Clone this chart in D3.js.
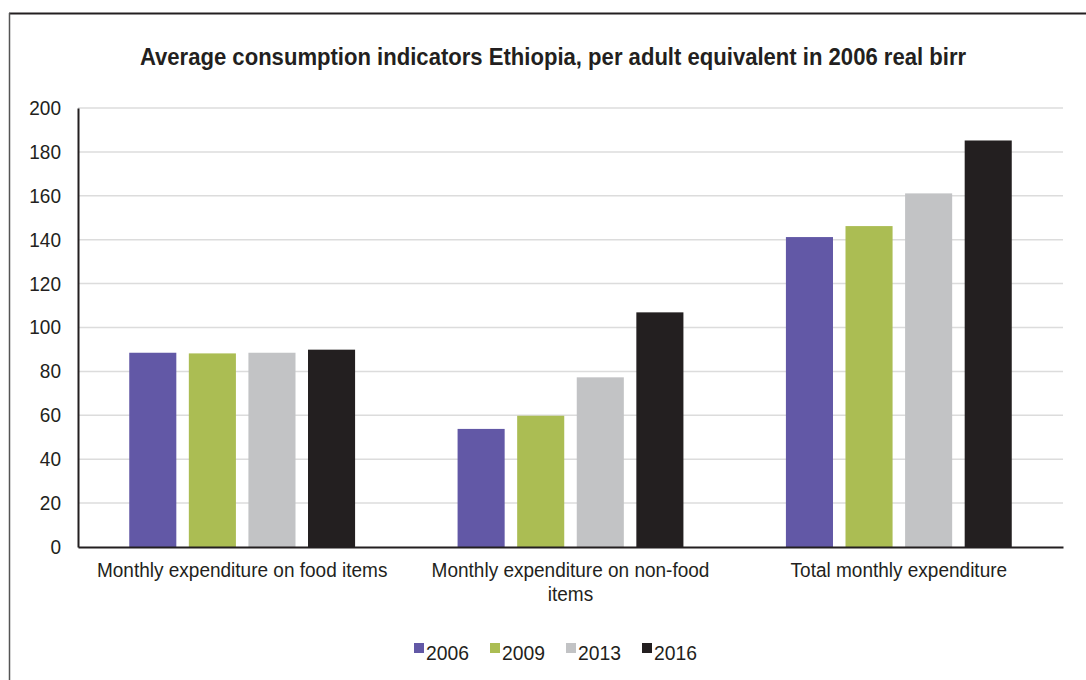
<!DOCTYPE html>
<html>
<head>
<meta charset="utf-8">
<script src="https://cdn.jsdelivr.net/npm/d3@7/dist/d3.min.js"></script>
<style>
  body { margin: 0; background: #fff; }
  text { font-family: "Liberation Sans Narrow", "Arial Narrow", "Liberation Sans", sans-serif; fill: #231f20; }
</style>
</head>
<body>
<div class="chart"></div>
<script>
// data
const categories = ['Monthly expenditure on food items', 'Monthly expenditure on non-food items', 'Total monthly expenditure'];
const years = ['2006', '2009', '2013', '2016'];
const colors = ['#6258a6', '#abbd53', '#c2c3c5', '#231f20'];
const values2006 = [88.5, 53.8, 141.2];
const values2009 = [88.2, 59.8, 146.2];
const values2013 = [88.5, 77.3, 161.1];
const values2016 = [89.9, 106.9, 185.2];
const yTicks = [0, 20, 40, 60, 80, 100, 120, 140, 160, 180, 200];

const series = [values2006, values2009, values2013, values2016];
const data = categories.map((c, i) => ({
  cat: c,
  vals: years.map((y, j) => ({ year: y, value: series[j][i], color: colors[j] }))
}));

const W = 1086, H = 680;
const margin = { top: 108, right: 23, bottom: 133, left: 78 };
const width = W - margin.left - margin.right;
const height = H - margin.top - margin.bottom;

// squeeze text a bit to look like the condensed face of the original
function condense(sel, k) {
  sel.each(function() {
    const len = this.getComputedTextLength();
    d3.select(this).attr('textLength', len * k).attr('lengthAdjust', 'spacingAndGlyphs');
  });
}

const root = d3.select('.chart').append('svg')
  .attr('width', W)
  .attr('height', H);

// frame (top + left border only)
root.append('line').attr('x1', 9).attr('x2', W).attr('y1', 13.5).attr('y2', 13.5)
  .attr('stroke', '#231f20').attr('stroke-width', 2);
root.append('line').attr('x1', 9.5).attr('x2', 9.5).attr('y1', 13).attr('y2', H)
  .attr('stroke', '#555').attr('stroke-width', 1.5);

root.append('text')
  .attr('x', 553).attr('y', 65)
  .attr('text-anchor', 'middle')
  .style('font-size', '24px')
  .style('font-weight', 'bold')
  .text('Average consumption indicators Ethiopia, per adult equivalent in 2006 real birr')
  .call(condense, 0.92);

const svg = root.append('g')
  .attr('transform', `translate(${margin.left}, ${margin.top})`);

const yScale = d3.scaleLinear().domain([0, 200]).range([height, 0]);
const x0 = d3.scaleBand().domain(categories).range([0, width]).padding(0);
const x1 = d3.scaleBand().domain(years).range([0, x0.bandwidth()])
  .paddingInner(0.21).paddingOuter(0.86);

// gridlines
svg.append('g')
  .selectAll('line')
  .data(yTicks.filter(d => d > 0))
  .enter()
  .append('line')
    .attr('x1', 0)
    .attr('x2', width)
    .attr('y1', d => yScale(d))
    .attr('y2', d => yScale(d))
    .attr('stroke', '#dcdcdc')
    .attr('stroke-width', 1.5);

// y axis
const yAxis = d3.axisLeft(yScale).tickValues(yTicks).tickSize(0).tickPadding(17);
const yG = svg.append('g').call(yAxis);
yG.select('.domain').attr('stroke', '#231f20').attr('stroke-width', 2);
yG.selectAll('text').style('font-size', '20px').style('font-family', null)
  .call(condense, 0.95);

// bars
const groups = svg.selectAll('.group')
  .data(data)
  .enter()
  .append('g')
    .attr('class', 'group')
    .attr('transform', d => `translate(${x0(d.cat)}, 0)`);

groups.selectAll('rect')
  .data(d => d.vals)
  .enter()
  .append('rect')
    .attr('x', d => x1(d.year))
    .attr('y', d => yScale(d.value))
    .attr('width', x1.bandwidth())
    .attr('height', d => height - yScale(d.value))
    .attr('fill', d => d.color);

// x axis
const xAxis = d3.axisBottom(x0).tickSize(0).tickPadding(16);
const xG = svg.append('g').attr('transform', `translate(0, ${height})`).call(xAxis);
xG.select('.domain').attr('stroke', '#231f20').attr('stroke-width', 2);
xG.selectAll('text').style('font-size', '20px').style('font-family', null)
  .each(function(d) {
    const t = d3.select(this);
    if (d === 'Monthly expenditure on non-food items') {
      t.text(null);
      t.append('tspan').attr('x', 0).attr('dy', '0.71em').text('Monthly expenditure on non-food');
      t.append('tspan').attr('x', 0).attr('dy', '1.2em').text('items');
      t.attr('dy', null);
      t.selectAll('tspan').call(condense, 0.95);
    } else {
      t.call(condense, 0.95);
    }
  });

// legend
const legend = root.append('g').attr('transform', 'translate(414, 643)');
const items = legend.selectAll('g')
  .data(years)
  .enter()
  .append('g')
    .attr('transform', (d, i) => `translate(${i * 76}, 0)`);
items.append('rect')
  .attr('width', 10).attr('height', 10)
  .attr('fill', (d, i) => colors[i]);
items.append('text')
  .attr('x', 12).attr('y', 17)
  .style('font-size', '21px')
  .text(d => d)
  .call(condense, 0.92);
</script>
</body>
</html>
